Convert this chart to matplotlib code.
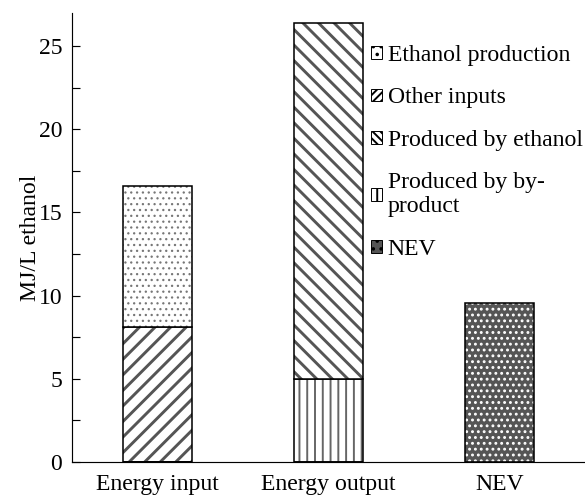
import matplotlib
matplotlib.use("Agg")
import matplotlib.pyplot as plt
from matplotlib.patches import Patch
from matplotlib.ticker import MultipleLocator

categories = ["Energy input", "Energy output", "NEV"]
ethanol_production = [8.5, 0, 0]
other_inputs = [8.1, 0, 0]
produced_by_ethanol = [0, 21.4, 0]
produced_by_byproduct = [0, 5.0, 0]
nev = [0, 0, 9.55]
legend_labels = ["Ethanol production", "Other inputs", "Produced by ethanol",
                 "Produced by by-\nproduct", "NEV"]

DPI = 140
plt.rcParams['font.family'] = ['Liberation Serif', 'DejaVu Serif']
plt.rcParams['font.size'] = 12.2

fig = plt.figure(figsize=(585 / DPI, 496 / DPI), dpi=DPI)
ax = fig.add_axes([0.123, 0.0685, 0.877, 0.906])

x = list(range(len(categories)))
W = 0.40


def hbar(vals, bottom, face, hcol, hatch, hlw):
    bars = ax.bar(x, vals, W, bottom=bottom, color=face, edgecolor=hcol,
                  linewidth=0, hatch=hatch)
    for b in bars:
        if hasattr(b, "set_hatch_linewidth"):
            b.set_hatch_linewidth(hlw)
    ax.bar(x, vals, W, bottom=bottom, fill=False, edgecolor='black', linewidth=0.8)


# Energy input stack
hbar(other_inputs, 0, 'white', '#555555', '///', 1.5)
hbar(ethanol_production, other_inputs, 'white', '#777777', '....', 0.6)
# Energy output stack
hbar(produced_by_byproduct, 0, 'white', '#666666', '|||', 1.0)
hbar(produced_by_ethanol, produced_by_byproduct, 'white', '#555555', '\\\\\\', 1.5)
# NEV
hbar(nev, 0, '#555555', 'white', '....', 0.9)

ax.set_xlim(-0.5, 2.5)
ax.set_ylim(0, 27)
ax.set_xticks(x)
ax.set_xticklabels(categories)
ax.yaxis.set_major_locator(MultipleLocator(5))
ax.yaxis.set_minor_locator(MultipleLocator(2.5))
ax.tick_params(axis='y', which='both', direction='in', length=4, width=0.6, pad=5)
ax.tick_params(axis='x', length=0, pad=6)
for s in ['top', 'right']:
    ax.spines[s].set_visible(False)
for s in ['left', 'bottom']:
    ax.spines[s].set_linewidth(0.6)
ax.set_ylabel("MJ/L ethanol", labelpad=-1)

handles = [
    Patch(facecolor='white', edgecolor='black', hatch='...', linewidth=0.5),
    Patch(facecolor='white', edgecolor='black', hatch='//////', linewidth=0.5),
    Patch(facecolor='white', edgecolor='black', hatch='\\\\\\\\\\\\', linewidth=0.5),
    Patch(facecolor='white', edgecolor='black', hatch='|||', linewidth=0.5),
    Patch(facecolor='#555555', edgecolor='black', hatch='...', linewidth=0.5),
]
leg = fig.legend(handles, legend_labels, loc='upper left',
                 bbox_to_anchor=(371 / 585, 1 - 45 / 496), frameon=False,
                 handlelength=0.45, handleheight=0.45, handletextpad=0.25,
                 labelspacing=0.9, borderpad=0, borderaxespad=0)

fig.savefig("out.png", dpi=DPI)
